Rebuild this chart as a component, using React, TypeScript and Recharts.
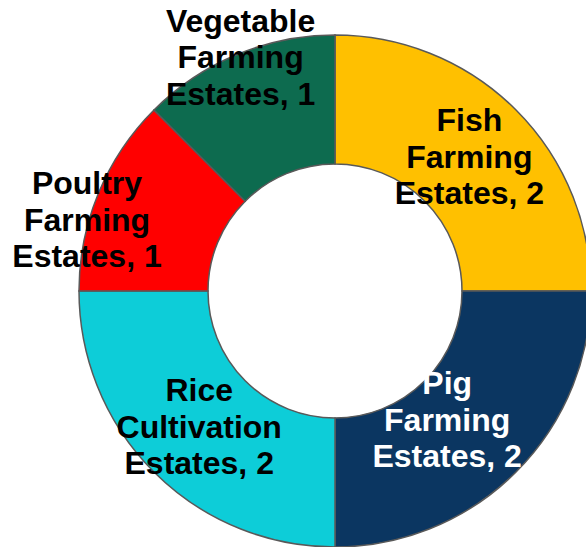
import { PieChart, Pie, Cell } from "recharts";

const CATEGORIES = [
  "Fish Farming Estates",
  "Pig Farming Estates",
  "Rice Cultivation Estates",
  "Poultry Farming Estates",
  "Vegetable Farming Estates",
];
const COUNTS = [2, 2, 2, 1, 1];

const COLORS = ["#FFC000", "#0B3661", "#0DCDD8", "#FF0000", "#0D6B4F"];
const LABEL_COLORS = ["#000", "#fff", "#000", "#000", "#000"];
// label radius + angle shift per slice (small slices sit on the outer rim)
const LABEL_POS = [
  { r: 190, da: 0 },
  { r: 171, da: -4 },
  { r: 192, da: 0 },
  { r: 258, da: 6.5 },
  { r: 252, da: -0.5 },
];

const dados = CATEGORIES.map((nome, i) => ({ nome, valor: COUNTS[i] }));

const RAD = Math.PI / 180;
const FONT = 32;
const LINE = 36.5;

function renderLabel(props: any) {
  const { cx, cy, midAngle, index } = props;
  const pos = LABEL_POS[index];
  const ang = (midAngle + pos.da) * RAD;
  const x = cx + pos.r * Math.cos(-ang);
  const y = cy + pos.r * Math.sin(-ang);
  const words = dados[index].nome.split(" ");
  const lines = [words[0], words[1], `${words[2]}, ${dados[index].valor}`];
  const base = y + FONT * 0.34;
  return (
    <text
      key={`lbl-${index}`}
      x={x}
      y={base}
      textAnchor="middle"
      fill={LABEL_COLORS[index]}
      fontFamily="'Liberation Sans', Arial, sans-serif"
      fontWeight="bold"
      fontSize={FONT}
    >
      {lines.map((l, i) => (
        <tspan key={i} x={x} y={base + (i - 1) * LINE}>
          {l}
        </tspan>
      ))}
    </text>
  );
}

export default function App() {
  return (
    <div style={{ position: "absolute", left: 0, top: 0, width: 586, height: 547, background: "#fff" }}>
      <PieChart width={586} height={547} margin={{ top: 0, right: 0, bottom: 0, left: 0 }}>
        <Pie
          data={dados}
          dataKey="valor"
          nameKey="nome"
          cx={335}
          cy={291}
          innerRadius={127}
          outerRadius={256}
          startAngle={90}
          endAngle={-270}
          stroke="#595959"
          strokeWidth={1.5}
          labelLine={false}
          label={renderLabel}
          isAnimationActive={false}
        >
          {dados.map((entry, idx) => (
            <Cell key={entry.nome} fill={COLORS[idx]} />
          ))}
        </Pie>
      </PieChart>
    </div>
  );
}
